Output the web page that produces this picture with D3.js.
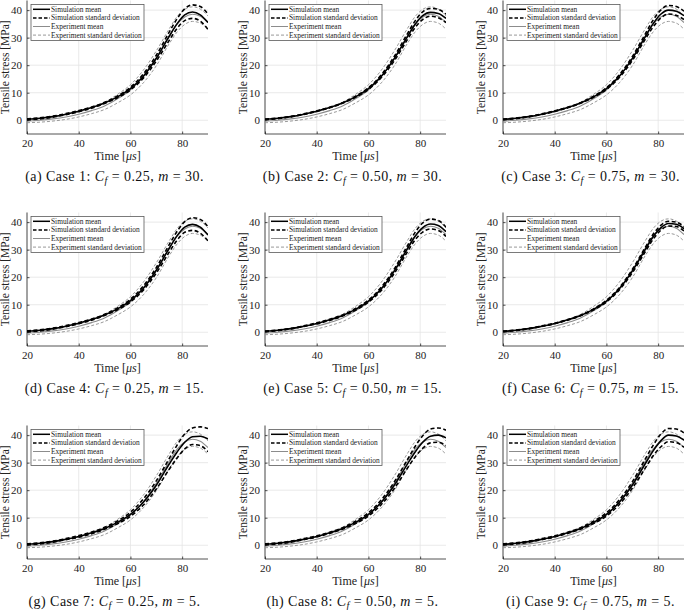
<!DOCTYPE html>
<html><head><meta charset="utf-8">
<script src="https://cdn.jsdelivr.net/npm/d3@7"></script>
<style>body{margin:0;background:#fff}svg{display:block}</style>
</head><body><svg id="c" width="685" height="610"></svg>
<script>
const time = [20,25,30,35,40,45,50,55,60,65,70,75,78,81,84,87,90];
const xTicks = [20,40,60,80];
const yTicks = [0,10,20,30,40];
const caseLetters = ["a","b","c","d","e","f","g","h","i"];
const caseCf = ["0.25","0.50","0.75","0.25","0.50","0.75","0.25","0.50","0.75"];
const caseM = ["30","30","30","15","15","15","5","5","5"];
const legendLabels = ["Simulation mean","Simulation standard deviation","Experiment mean","Experiment standard deviation"];

const expMean  = [-0.3,0.0,0.5,1.2,2.2,3.5,5.2,7.8,11.0,15.8,22.5,30.5,34.8,37.5,38.5,37.8,35.5];
const expUpper = [0.2,0.6,1.2,2.0,3.0,4.5,6.5,9.4,12.9,18.2,25.2,33.2,37.6,40.3,41.2,40.4,37.9];
const expLower = [-0.9,-0.7,-0.3,0.3,1.2,2.4,3.9,6.3,9.2,13.6,19.8,27.8,32.0,34.8,35.9,35.3,33.1];

const simMean = [
 [0.3,0.7,1.3,2.2,3.3,4.6,6.3,8.5,11.5,16.0,22.5,30.5,35.0,38.3,39.3,38.3,35.5],
 [0.3,0.7,1.3,2.2,3.3,4.6,6.3,8.5,11.5,16.0,22.4,30.2,34.8,38.0,39.2,38.8,37.0],
 [0.3,0.7,1.3,2.2,3.3,4.6,6.3,8.5,11.5,16.0,22.4,30.3,35.0,38.5,40.0,39.6,38.0],
 [0.3,0.7,1.3,2.2,3.3,4.6,6.3,8.5,11.5,16.0,22.5,30.5,35.0,38.2,39.2,38.2,35.3],
 [0.3,0.7,1.3,2.2,3.2,4.5,6.1,8.3,11.3,15.8,22.2,30.2,34.8,38.0,39.3,38.8,36.5],
 [0.3,0.7,1.3,2.2,3.2,4.5,6.1,8.3,11.3,15.8,22.2,30.0,34.6,37.9,39.5,39.2,37.6],
 [0.3,0.7,1.3,2.2,3.2,4.5,6.1,8.3,11.2,15.6,21.8,29.5,33.8,37.4,39.4,39.6,38.6],
 [0.3,0.7,1.3,2.2,3.2,4.5,6.1,8.3,11.2,15.6,21.8,29.4,33.8,37.4,39.6,40.0,39.0],
 [0.3,0.7,1.3,2.2,3.2,4.5,6.1,8.3,11.2,15.6,21.8,29.6,34.2,37.9,40.0,39.7,38.2]
];
const simUpper = [
 [0.5,0.9,1.5,2.4,3.5,4.8,6.5,8.8,12.0,16.8,23.6,32.0,36.8,40.5,41.9,41.3,38.6],
 [0.4,0.8,1.4,2.3,3.4,4.7,6.4,8.7,11.8,16.5,23.2,31.3,36.0,39.4,40.6,40.3,38.5],
 [0.4,0.8,1.4,2.3,3.4,4.7,6.4,8.7,11.8,16.5,23.1,31.3,36.3,40.0,41.7,41.3,39.6],
 [0.5,0.9,1.5,2.4,3.5,4.8,6.5,8.8,12.0,16.8,23.5,31.8,36.6,40.2,41.6,41.0,38.3],
 [0.4,0.8,1.4,2.3,3.4,4.7,6.3,8.6,11.7,16.4,23.0,31.3,36.2,39.7,41.1,40.6,38.2],
 [0.4,0.8,1.4,2.3,3.3,4.6,6.2,8.5,11.6,16.2,22.8,30.8,35.5,38.8,40.3,40.0,38.4],
 [0.5,0.9,1.5,2.4,3.5,4.8,6.5,8.8,12.0,16.8,23.4,31.5,36.3,40.4,42.6,43.0,42.4],
 [0.5,0.9,1.5,2.4,3.4,4.7,6.4,8.7,11.8,16.5,23.0,31.0,35.8,39.8,42.2,42.6,41.8],
 [0.5,0.9,1.5,2.4,3.4,4.7,6.4,8.7,11.8,16.5,23.0,31.3,36.2,40.3,42.4,42.2,40.8]
];
const simLower = [
 [0.1,0.5,1.1,2.0,3.1,4.4,6.1,8.2,11.0,15.3,21.5,29.0,33.3,36.2,37.0,36.0,33.0],
 [0.2,0.6,1.2,2.1,3.2,4.5,6.2,8.3,11.2,15.5,21.6,29.2,33.6,36.6,37.8,37.2,35.5],
 [0.2,0.6,1.2,2.1,3.2,4.5,6.2,8.3,11.2,15.5,21.7,29.4,33.8,37.1,38.6,38.1,36.6],
 [0.1,0.5,1.1,2.0,3.1,4.4,6.1,8.2,11.0,15.3,21.5,29.1,33.4,36.3,37.0,36.0,33.2],
 [0.2,0.6,1.2,2.1,3.0,4.3,5.9,8.0,10.9,15.2,21.4,29.1,33.5,36.4,37.5,37.0,34.8],
 [0.2,0.6,1.2,2.1,3.1,4.4,6.0,8.1,11.0,15.4,21.6,29.2,33.7,37.0,38.6,38.4,36.8],
 [0.1,0.5,1.1,2.0,2.9,4.2,5.8,7.8,10.5,14.6,20.4,27.6,31.6,35.0,36.6,36.2,34.0],
 [0.1,0.5,1.1,2.0,3.0,4.3,5.8,7.9,10.6,14.8,20.6,27.9,32.0,35.2,37.2,37.4,36.2],
 [0.1,0.5,1.1,2.0,3.0,4.3,5.8,7.9,10.6,14.8,20.7,28.0,32.4,35.7,37.6,37.3,35.6]
];

const svg = d3.select("#c");
const serif = "'Liberation Serif','DejaVu Serif',serif";
const colLeft = [27, 265, 503];
const rowTop = [0.5, 212.5, 425.5];
const pw = 181, ph = 133.5;

for (let k = 0; k < 9; k++) {
  const r = Math.floor(k / 3), c = k % 3;
  const g = svg.append("g").attr("transform", `translate(${colLeft[c]},${rowTop[r]})`);
  const x = d3.scaleLinear().domain([20, 90]).range([0, pw]);
  const y = d3.scaleLinear().domain([-5, 43.5]).range([ph, 0]);

  // grid
  g.append("g").selectAll("line").data(yTicks).join("line")
    .attr("x1", 0).attr("x2", pw).attr("y1", d => y(d)).attr("y2", d => y(d))
    .attr("stroke", "#e3e3e3").attr("stroke-width", 0.8);
  g.append("g").selectAll("line").data(xTicks).join("line")
    .attr("y1", 0).attr("y2", ph).attr("x1", d => x(d)).attr("x2", d => x(d))
    .attr("stroke", "#e3e3e3").attr("stroke-width", 0.8);

  // axes
  const xa = g.append("g").attr("transform", `translate(0,${ph})`)
    .call(d3.axisBottom(x).tickValues(xTicks).tickSize(-2.5).tickPadding(5));
  const ya = g.append("g")
    .call(d3.axisLeft(y).tickValues(yTicks).tickSize(-2.5).tickPadding(5));
  [xa, ya].forEach(a => {
    a.select(".domain").attr("stroke", "#262626").attr("stroke-width", 0.8);
    a.selectAll(".tick line").attr("stroke", "#262626").attr("stroke-width", 0.8);
    a.selectAll(".tick text").attr("font-family", serif).attr("font-size", 11).attr("fill", "#222");
  });
  ya.select(".domain").attr("d", `M0,${ph}V0`);
  xa.select(".domain").attr("d", `M0,0H${pw}`);

  // curves
  const clipId = "clip" + k;
  g.append("clipPath").attr("id", clipId).append("rect").attr("width", pw).attr("height", ph);
  const line = d3.line().x((d, i) => x(time[i])).y(d => y(d)).curve(d3.curveMonotoneX);
  const cg = g.append("g").attr("clip-path", `url(#${clipId})`);
  const exC = "#8c8c8c";
  cg.append("path").attr("d", line(expUpper)).attr("fill", "none").attr("stroke", exC).attr("stroke-width", 0.9).attr("stroke-dasharray", "3,2");
  cg.append("path").attr("d", line(expLower)).attr("fill", "none").attr("stroke", exC).attr("stroke-width", 0.9).attr("stroke-dasharray", "3,2");
  cg.append("path").attr("d", line(expMean)).attr("fill", "none").attr("stroke", exC).attr("stroke-width", 1.1);
  cg.append("path").attr("d", line(simUpper[k])).attr("fill", "none").attr("stroke", "#000").attr("stroke-width", 1.6).attr("stroke-dasharray", "4,2.5");
  cg.append("path").attr("d", line(simLower[k])).attr("fill", "none").attr("stroke", "#000").attr("stroke-width", 1.6).attr("stroke-dasharray", "4,2.5");
  cg.append("path").attr("d", line(simMean[k])).attr("fill", "none").attr("stroke", "#000").attr("stroke-width", 1.6);

  // legend
  const lg = g.append("g").attr("transform", "translate(4,4)");
  lg.append("rect").attr("width", 113).attr("height", 36).attr("fill", "#fff").attr("stroke", "#5a5a5a").attr("stroke-width", 0.8);
  const lstyles = [
    { s: "#000", w: 1.5, d: null },
    { s: "#000", w: 1.5, d: "3.5,2" },
    { s: exC, w: 1.0, d: null },
    { s: exC, w: 0.9, d: "3,2" }
  ];
  legendLabels.forEach((lab, i) => {
    const yy = 4.8 + i * 8.6;
    lg.append("line").attr("x1", 2).attr("x2", 19).attr("y1", yy).attr("y2", yy)
      .attr("stroke", lstyles[i].s).attr("stroke-width", lstyles[i].w)
      .attr("stroke-dasharray", lstyles[i].d);
    lg.append("text").attr("x", 20).attr("y", yy + 2.5).text(lab)
      .attr("font-family", serif).attr("font-size", 7.4).attr("fill", "#222");
  });

  // axis labels
  g.append("text").attr("x", pw * 0.5).attr("y", ph + 26).attr("text-anchor", "middle")
    .attr("font-family", serif).attr("font-size", 12).attr("fill", "#222")
    .call(t => { t.append("tspan").text("Time ["); t.append("tspan").attr("font-style", "italic").text("μs"); t.append("tspan").text("]"); });
  g.append("text").attr("transform", `translate(-18.5,${ph / 2}) rotate(-90)`).attr("text-anchor", "middle")
    .attr("font-family", serif).attr("font-size", 11.5).attr("fill", "#222").text("Tensile stress [MPa]");

  // caption
  const cap = g.append("text").attr("x", pw * 0.5 - 3).attr("y", ph + 47).attr("text-anchor", "middle")
    .attr("font-family", serif).attr("font-size", 14).attr("letter-spacing", 0.45).attr("fill", "#111");
  cap.append("tspan").text(`(${caseLetters[k]}) Case ${k + 1}: `);
  cap.append("tspan").attr("font-style", "italic").text("C");
  cap.append("tspan").attr("font-style", "italic").attr("font-size", 10).attr("dy", 2.8).text("f");
  cap.append("tspan").attr("dy", -2.8).text(` = ${caseCf[k]}, `);
  cap.append("tspan").attr("font-style", "italic").text("m");
  cap.append("tspan").text(` = ${caseM[k]}.`);
}
</script></body></html>
